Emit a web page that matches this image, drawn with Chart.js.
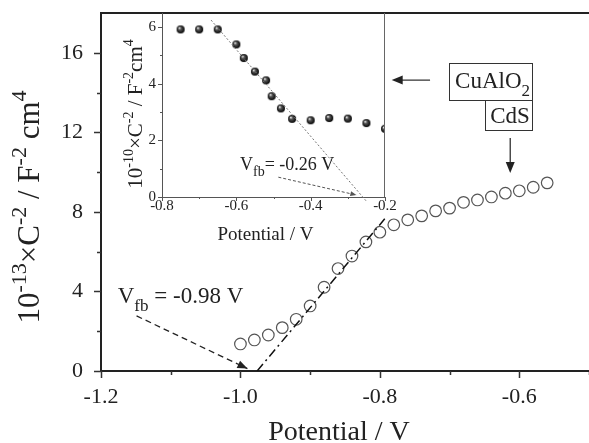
<!DOCTYPE html>
<html>
<head>
<meta charset="utf-8">
<script src="https://cdn.jsdelivr.net/npm/chart.js@4.4.0/dist/chart.umd.min.js"></script>
<style>
  html, body { margin: 0; padding: 0; background: #fff; }
  #wrap { position: relative; width: 589px; height: 443px; }
  #mainChart { position: absolute; left: 0; top: 0; }
  #insetChart { position: absolute; left: 100px; top: 0; }
</style>
</head>
<body>
<div id="wrap">
  <canvas id="mainChart" width="589" height="443"></canvas>
  <canvas id="insetChart" width="300" height="250"></canvas>
</div>
<script>
// ---------------- data ----------------
// CdS, open circles, main plot
const cdsPotential = [-1.00, -0.98, -0.96, -0.94, -0.92, -0.90, -0.88, -0.86, -0.84, -0.82, -0.80, -0.78,
                      -0.76, -0.74, -0.72, -0.70, -0.68, -0.66, -0.64, -0.62, -0.60, -0.58, -0.56];
const cdsC2 = [1.36, 1.56, 1.81, 2.18, 2.60, 3.27, 4.21, 5.15, 5.78, 6.49, 6.98, 7.35,
               7.60, 7.80, 8.05, 8.19, 8.48, 8.60, 8.75, 8.94, 9.06, 9.24, 9.46];

// CuAlO2, filled spheres, inset
const cuPotential = [-0.75, -0.70, -0.65, -0.60, -0.58, -0.55, -0.52, -0.505, -0.48, -0.45, -0.40, -0.35, -0.30, -0.25, -0.20];
const cuC2 = [5.92, 5.92, 5.92, 5.39, 4.91, 4.43, 4.12, 3.56, 3.13, 2.76, 2.71, 2.79, 2.77, 2.61, 2.41];

// flat band fits and arrows
const mainFitX = [-0.976, -0.793];
const mainFitY = [0, 7.65];
const mainArrowX = [-1.149, -0.99];
const mainArrowY = [2.77, 0.12];
const insetFitX = [-0.668, -0.25];
const insetFitY = [6.25, -0.15];
const insetArrowX = [-0.487, -0.277];
const insetArrowY = [0.70, 0.07];

// axis ranges / ticks
const mainXRange = [-1.2, -0.5];
const mainYRange = [0, 18];
const insetXRange = [-0.8, -0.2];
const insetYRange = [0, 6.5];

const FONT = "'Liberation Serif', 'Times New Roman', serif";
Chart.defaults.font.family = FONT;
Chart.defaults.color = '#222';

const pts = (xs, ys) => xs.map((x, i) => ({ x: x, y: ys[i] }));
const isMajor = (v, step) => Math.abs(v / step - Math.round(v / step)) < 1e-6;

// fixed axis boxes, no extra label padding
function fixBox(s, w, h) {
  if (w) s.width = w;
  if (h) s.height = h;
  s.paddingTop = s.paddingBottom = s.paddingLeft = s.paddingRight = 0;
}

// text with super/subscripts: parts = [[text, 'n'|'sup'|'sub'], ...]
function richText(ctx, parts, x, y, size, align, subSize) {
  const small = subSize || size * 0.65;
  ctx.textAlign = 'left';
  ctx.textBaseline = 'alphabetic';
  let w = 0;
  parts.forEach(p => {
    ctx.font = (p[1] === 'n' ? size : small) + 'px ' + FONT;
    w += ctx.measureText(p[0]).width;
  });
  let cx = align === 'center' ? x - w / 2 : x;
  parts.forEach(p => {
    const s = p[1] === 'n' ? size : small;
    ctx.font = s + 'px ' + FONT;
    const dy = p[1] === 'sup' ? -size * 0.42 : (p[1] === 'sub' ? size * 0.33 : 0);
    ctx.fillText(p[0], cx, y + dy);
    cx += ctx.measureText(p[0]).width;
  });
}

function arrowHead(ctx, x1, y1, x2, y2, len, half) {
  const a = Math.atan2(y2 - y1, x2 - x1);
  ctx.beginPath();
  ctx.moveTo(x2, y2);
  ctx.lineTo(x2 - len * Math.cos(a) + half * Math.sin(a), y2 - len * Math.sin(a) - half * Math.cos(a));
  ctx.lineTo(x2 - len * Math.cos(a) - half * Math.sin(a), y2 - len * Math.sin(a) + half * Math.cos(a));
  ctx.closePath();
  ctx.fill();
}

// ticks drawn outside the axes, long for labelled values and short in between
function drawTicks(chart, xStep, yStep, longLen, shortLen, color, width) {
  const ctx = chart.ctx;
  const a = chart.chartArea;
  const sx = chart.scales.x, sy = chart.scales.y;
  ctx.save();
  ctx.strokeStyle = color;
  ctx.lineWidth = width;
  ctx.beginPath();
  sx.ticks.forEach(t => {
    const p = Math.round(sx.getPixelForValue(t.value)) + 0.5;
    const l = isMajor(t.value, xStep) ? longLen : shortLen;
    ctx.moveTo(p, a.bottom);
    ctx.lineTo(p, a.bottom + l);
  });
  sy.ticks.forEach(t => {
    if (t.value >= sy.max) return;
    const p = Math.round(sy.getPixelForValue(t.value)) + 0.5;
    const l = isMajor(t.value, yStep) ? longLen : shortLen;
    ctx.moveTo(a.left, p);
    ctx.lineTo(a.left - l, p);
  });
  ctx.stroke();
  ctx.restore();
}

function drawArrows(chart, size, half) {
  const ctx = chart.ctx;
  chart.data.datasets.forEach((ds, i) => {
    if (!ds.arrow) return;
    const d = chart.getDatasetMeta(i).data;
    const p1 = d[d.length - 2], p2 = d[d.length - 1];
    ctx.save();
    ctx.fillStyle = ds.borderColor;
    arrowHead(ctx, p1.x, p1.y, p2.x, p2.y, size, half);
    ctx.restore();
  });
}

// ---------------- main chart (CdS) ----------------
const mainDecor = {
  id: 'mainDecor',
  afterDraw(chart) {
    const ctx = chart.ctx;
    const a = chart.chartArea;
    const sx = chart.scales.x, sy = chart.scales.y;
    drawTicks(chart, 0.2, 4, 7, 4, '#333', 1.5);
    drawArrows(chart, 10, 4);

    // top frame line
    ctx.save();
    ctx.strokeStyle = '#222';
    ctx.lineWidth = 2;
    ctx.beginPath();
    ctx.moveTo(a.left - 1, a.top);
    ctx.lineTo(a.right, a.top);
    ctx.stroke();

    ctx.fillStyle = '#222';
    // axis titles
    richText(ctx, [['Potential / V', 'n']], (a.left + a.right) / 2 - 6, 440, 28, 'center');
    ctx.save();
    ctx.translate(39, 207);
    ctx.rotate(-Math.PI / 2);
    richText(ctx, [['10', 'n'], ['-13', 'sup'], ['\u00d7C', 'n'], ['-2', 'sup'], [' / F', 'n'], ['-2', 'sup'],
                   [' cm', 'n'], ['4', 'sup']], 0, 0, 31, 'center', 22);
    ctx.restore();

    // flat band label
    richText(ctx, [['V', 'n'], ['fb', 'sub'], [' = -0.98 V', 'n']],
             sx.getPixelForValue(-1.176), sy.getPixelForValue(3.42), 23, 'left', 17);

    // sample callouts
    ctx.strokeStyle = '#333';
    ctx.lineWidth = 1;
    const bx1 = sx.getPixelForValue(-0.7007), bx2 = sx.getPixelForValue(-0.5817), bx3 = sx.getPixelForValue(-0.649);
    const by1 = sy.getPixelForValue(15.49), by2 = sy.getPixelForValue(13.63), by3 = sy.getPixelForValue(12.12);
    ctx.strokeRect(Math.round(bx1) + 0.5, Math.round(by1) + 0.5, Math.round(bx2 - bx1), Math.round(by2 - by1));
    ctx.strokeRect(Math.round(bx3) + 0.5, Math.round(by2) + 0.5, Math.round(bx2 - bx3), Math.round(by3 - by2));
    richText(ctx, [['CuAlO', 'n'], ['2', 'sub']], bx1 + 6, by1 + 25, 23, 'left', 17);
    richText(ctx, [['CdS', 'n']], bx3 + 5, by3 - 7, 23, 'left');

    // arrows to the inset and to the data
    ctx.lineWidth = 1.3;
    ctx.beginPath();
    const lx1 = sx.getPixelForValue(-0.728), lx2 = sx.getPixelForValue(-0.783), ly = sy.getPixelForValue(14.63);
    ctx.moveTo(lx1, ly); ctx.lineTo(lx2 + 6, ly);
    const dx = sx.getPixelForValue(-0.613), dy1 = sy.getPixelForValue(11.71), dy2 = sy.getPixelForValue(9.95);
    ctx.moveTo(dx, dy1); ctx.lineTo(dx, dy2 - 6);
    ctx.stroke();
    arrowHead(ctx, lx1, ly, lx2, ly, 11, 4.5);
    arrowHead(ctx, dx, dy1, dx, dy2, 11, 4.5);
    ctx.restore();
  }
};

new Chart(document.getElementById('mainChart'), {
  type: 'scatter',
  data: {
    datasets: [
      {
        data: pts(mainFitX, mainFitY),
        showLine: true, pointRadius: 0,
        borderColor: '#111', borderWidth: 1.5, borderDash: [9, 4, 2, 4]
      },
      {
        data: pts(mainArrowX, mainArrowY), arrow: true,
        showLine: true, pointRadius: 0,
        borderColor: '#222', borderWidth: 1.3, borderDash: [6, 4]
      },
      {
        data: pts(cdsPotential, cdsC2),
        pointStyle: 'circle', pointRadius: 5.8,
        borderColor: '#555', borderWidth: 1.2, backgroundColor: 'rgba(0,0,0,0)'
      }
    ]
  },
  options: {
    responsive: false,
    animation: false,
    layout: { autoPadding: false, padding: { top: 13, right: 0, left: 0, bottom: 0 } },
    plugins: { legend: { display: false }, tooltip: { enabled: false } },
    scales: {
      x: {
        type: 'linear', min: mainXRange[0], max: mainXRange[1],
        grid: { display: false, drawTicks: false },
        border: { display: true, color: '#222', width: 2 },
        ticks: {
          stepSize: 0.1, padding: 13, autoSkip: false, maxRotation: 0,
          font: { size: 22 }, color: '#222',
          callback: v => isMajor(v, 0.2) ? v.toFixed(1) : ''
        },
        afterFit: s => fixBox(s, 0, 72)
      },
      y: {
        min: mainYRange[0], max: mainYRange[1],
        grid: { display: false, drawTicks: false },
        border: { display: true, color: '#222', width: 2 },
        ticks: {
          stepSize: 2, padding: 18, autoSkip: false,
          font: { size: 22 }, color: '#222',
          callback: v => isMajor(v, 4) ? String(Math.round(v)) : ''
        },
        afterFit: s => fixBox(s, 101, 0)
      }
    }
  },
  plugins: [mainDecor]
});

// ---------------- inset chart (CuAlO2) ----------------
function makeSphere(r) {
  const c = document.createElement('canvas');
  c.width = c.height = r * 2 + 2;
  const g = c.getContext('2d');
  const m = r + 1;
  const grad = g.createRadialGradient(m - r * 0.35, m - r * 0.4, 0.3, m, m, r);
  grad.addColorStop(0, '#f0f0f0');
  grad.addColorStop(0.35, '#555');
  grad.addColorStop(1, '#000');
  g.fillStyle = grad;
  g.beginPath();
  g.arc(m, m, r, 0, Math.PI * 2);
  g.fill();
  return c;
}

const insetDecor = {
  id: 'insetDecor',
  beforeDraw(chart) {
    const a = chart.chartArea;
    chart.ctx.save();
    chart.ctx.fillStyle = '#fff';
    chart.ctx.fillRect(a.left, a.top + 1, a.right - a.left, a.bottom - a.top - 1);
    chart.ctx.restore();
  },
  afterDraw(chart) {
    const ctx = chart.ctx;
    const a = chart.chartArea;
    const sx = chart.scales.x, sy = chart.scales.y;
    drawTicks(chart, 0.2, 2, 4, 2, '#555', 1);
    drawArrows(chart, 6, 2.5);
    ctx.save();
    ctx.strokeStyle = '#666';
    ctx.lineWidth = 1;
    ctx.beginPath();
    ctx.moveTo(a.right - 0.5, a.top);
    ctx.lineTo(a.right - 0.5, a.bottom);
    ctx.stroke();
    ctx.fillStyle = '#222';
    richText(ctx, [['Potential / V', 'n']], (a.left + a.right) / 2 - 8, 240, 19, 'center');
    ctx.save();
    ctx.translate(42, 114);
    ctx.rotate(-Math.PI / 2);
    richText(ctx, [['10', 'n'], ['-10', 'sup'], ['\u00d7C', 'n'], ['-2', 'sup'], [' / F', 'n'], ['-2', 'sup'],
                   ['cm', 'n'], ['4', 'sup']], 0, 0, 21, 'center', 14);
    ctx.restore();
    richText(ctx, [['V', 'n'], ['fb', 'sub'], ['= -0.26 V', 'n']],
             sx.getPixelForValue(-0.59), sy.getPixelForValue(0.95), 18, 'left', 14);
    ctx.restore();
  }
};

new Chart(document.getElementById('insetChart'), {
  type: 'scatter',
  data: {
    datasets: [
      {
        data: pts(insetFitX, insetFitY),
        showLine: true, pointRadius: 0, clip: false,
        borderColor: '#777', borderWidth: 1, borderDash: [2, 2]
      },
      {
        data: pts(insetArrowX, insetArrowY), arrow: true,
        showLine: true, pointRadius: 0,
        borderColor: '#555', borderWidth: 1, borderDash: [3, 2]
      },
      {
        data: pts(cuPotential, cuC2),
        pointStyle: makeSphere(4), pointRadius: 4, clip: 0
      }
    ]
  },
  options: {
    responsive: false,
    animation: false,
    layout: { autoPadding: false, padding: { top: 13, right: 15, left: 0, bottom: 0 } },
    plugins: { legend: { display: false }, tooltip: { enabled: false } },
    scales: {
      x: {
        type: 'linear', min: insetXRange[0], max: insetXRange[1],
        grid: { display: false, drawTicks: false },
        border: { display: true, color: '#555', width: 1 },
        ticks: {
          stepSize: 0.1, padding: 0, autoSkip: false, maxRotation: 0,
          font: { size: 15 }, color: '#222',
          callback: v => isMajor(v, 0.2) ? v.toFixed(1) : ''
        },
        afterFit: s => fixBox(s, 0, 53)
      },
      y: {
        min: insetYRange[0], max: insetYRange[1],
        grid: { display: false, drawTicks: false },
        border: { display: true, color: '#555', width: 1 },
        ticks: {
          stepSize: 1, padding: 6, autoSkip: false, includeBounds: false,
          font: { size: 15 }, color: '#222',
          callback: v => isMajor(v, 2) ? String(Math.round(v)) : ''
        },
        afterFit: s => fixBox(s, 62, 0)
      }
    }
  },
  plugins: [insetDecor]
});
</script>
</body>
</html>
